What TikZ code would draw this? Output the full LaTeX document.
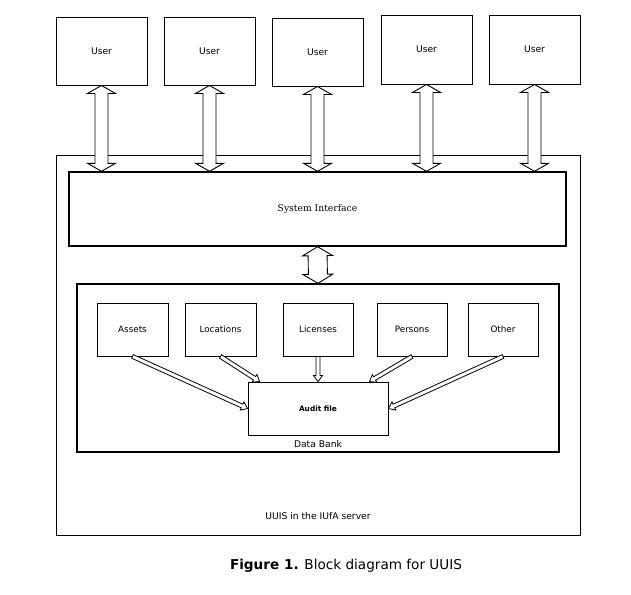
\documentclass[tikz,border=0pt]{standalone}
\usepackage{fontspec}
\setmainfont{DejaVu Sans}
\newfontfamily\seriffam{DejaVu Serif}
\usetikzlibrary{calc}
\tikzset{
  box/.style={draw, line width=0.9pt, inner sep=0pt, fill=white, font=\fontsize{9.2}{11}\selectfont},
  thickbox/.style={draw, line width=1.4pt, inner sep=0pt},
  inbox/.style={draw, line width=0.9pt, inner sep=0pt, minimum height=53pt, font=\fontsize{8.8}{11}\selectfont},
  arrowbox/.style={draw, line width=0.9pt, fill=white, line join=miter},
  lbl/.style={inner sep=0pt, font=\fontsize{9.2}{11}\selectfont},
}
% double-headed block arrow: start, end, shaft half width, head half width, head length
\newcommand\dblarrow[5]{%
  \path (#1) coordinate (ba1) (#2) coordinate (ba2);
  \path ($(ba1)!#5!(ba2)$) coordinate (bh1) ($(ba2)!#5!(ba1)$) coordinate (bh2);
  \draw[arrowbox] (ba1) -- ($(bh1)!#4!90:(ba2)$) -- ($(bh1)!#3!90:(ba2)$)
    -- ($(bh2)!#3!-90:(ba1)$) -- ($(bh2)!#4!-90:(ba1)$) -- (ba2)
    -- ($(bh2)!#4!90:(ba1)$) -- ($(bh2)!#3!90:(ba1)$)
    -- ($(bh1)!#3!-90:(ba2)$) -- ($(bh1)!#4!-90:(ba2)$) -- cycle;
}
% single-headed block arrow
\newcommand\sglarrow[5]{%
  \path (#1) coordinate (ba1) (#2) coordinate (ba2);
  \path ($(ba2)!#5!(ba1)$) coordinate (bh2);
  \draw[arrowbox, line width=0.8pt] ($(ba1)!#3!-90:(ba2)$) -- ($(bh2)!#3!90:(ba1)$)
    -- ($(bh2)!#4!90:(ba1)$) -- (ba2) -- ($(bh2)!#4!-90:(ba1)$)
    -- ($(bh2)!#3!-90:(ba1)$) -- ($(ba1)!#3!90:(ba2)$) -- cycle;
}
\begin{document}
\begin{tikzpicture}[x=1pt, y=-1pt]
\useasboundingbox[fill=white] (0,0) rectangle (631,594);
% users
\node[box, minimum width=91pt, minimum height=68pt] (u1) at (101.5,51) {User};
\node[box, minimum width=91pt, minimum height=68pt] (u2) at (209.5,51) {User};
\node[box, minimum width=91pt, minimum height=68pt] (u3) at (317.5,52) {User};
\node[box, minimum width=91pt, minimum height=69pt] (u4) at (426.5,49.5) {User};
\node[box, minimum width=91pt, minimum height=69pt] (u5) at (534.5,49.5) {User};
% server
\node[draw, line width=0.9pt, minimum width=524pt, minimum height=380pt, inner sep=0pt] (srv) at (318,345) {};
\node[lbl] (srvlbl) at (318,516) {UUIS in the IUfA server};
% system interface
\node[thickbox, fill=white, minimum width=497pt, minimum height=74pt, font=\seriffam\fontsize{9.2}{11}\selectfont] (si) at (317.5,209) {System Interface};
% data bank
\node[thickbox, minimum width=482pt, minimum height=168pt] (db) at (318,368) {};
\node[lbl] (dblbl) at (318,444) {Data Bank};
% inner boxes
\node[inbox, minimum width=71pt] (assets) at (132.5,329.5) {Assets};
\node[inbox, minimum width=71pt] (loc) at (220.5,329.5) {Locations};
\node[inbox, minimum width=70pt] (lic) at (318,329.5) {Licenses};
\node[inbox, minimum width=70pt] (pers) at (412,329.5) {Persons};
\node[inbox, minimum width=70pt] (other) at (503,329.5) {Other};
\node[inbox, minimum width=140pt, font=\bfseries\fontsize{7.4}{9}\selectfont] (audit) at (318,408.5) {Audit file};
% user arrows
\dblarrow{u1.south}{u1.south |- si.north}{6.5pt}{14pt}{8pt}
\dblarrow{u2.south}{u2.south |- si.north}{6.5pt}{14pt}{8pt}
\dblarrow{u3.south}{u3.south |- si.north}{6.5pt}{14pt}{8pt}
\dblarrow{u4.south}{u4.south |- si.north}{6.5pt}{14pt}{8pt}
\dblarrow{u5.south}{u5.south |- si.north}{6.5pt}{14pt}{8pt}
% SI - data bank
\dblarrow{si.south}{db.north}{9.5pt}{15pt}{9pt}
% data arrows
\sglarrow{assets.south}{audit.west}{2pt}{4.5pt}{6pt}
\sglarrow{loc.south}{$(audit.north west)+(12,0)$}{2pt}{4.5pt}{6pt}
\sglarrow{lic.south}{audit.north}{2pt}{4.5pt}{6pt}
\sglarrow{pers.south}{$(audit.north east)+(-19,0)$}{2pt}{4.5pt}{6pt}
\sglarrow{other.south}{audit.east}{2pt}{4.5pt}{6pt}
% caption
\node[inner sep=0pt, font=\fontsize{13.6}{16}\selectfont] (cap) at (346,566) {\textbf{Figure 1.} Block diagram for UUIS};
\end{tikzpicture}
\end{document}
